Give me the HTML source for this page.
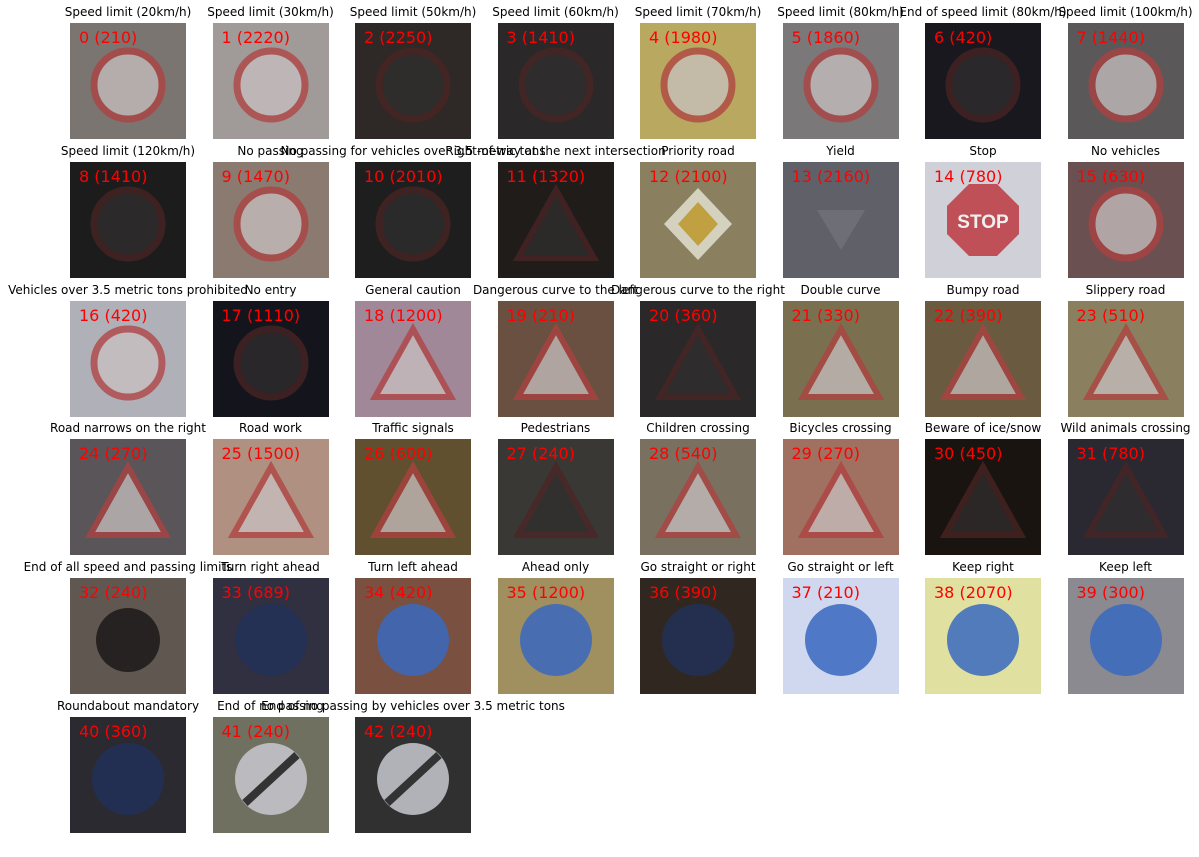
<!DOCTYPE html>
<html><head><meta charset="utf-8"><style>
body{margin:0;background:#fff;width:1199px;height:857px;overflow:hidden;position:relative;font-family:"DejaVu Sans","Liberation Sans",sans-serif}
.t{position:absolute;font-size:12px;color:#000;white-space:nowrap;transform:translateX(-50%)}
.c{position:absolute;width:116px;height:116px}
.l{position:absolute;font-size:16px;color:#f00;white-space:nowrap}
</style></head><body>
<div id="grid"></div>
<script>
const titles=["Speed limit (20km/h)","Speed limit (30km/h)","Speed limit (50km/h)","Speed limit (60km/h)","Speed limit (70km/h)","Speed limit (80km/h)","End of speed limit (80km/h)","Speed limit (100km/h)","Speed limit (120km/h)","No passing","No passing for vehicles over 3.5 metric tons","Right-of-way at the next intersection","Priority road","Yield","Stop","No vehicles","Vehicles over 3.5 metric tons prohibited","No entry","General caution","Dangerous curve to the left","Dangerous curve to the right","Double curve","Bumpy road","Slippery road","Road narrows on the right","Road work","Traffic signals","Pedestrians","Children crossing","Bicycles crossing","Beware of ice/snow","Wild animals crossing","End of all speed and passing limits","Turn right ahead","Turn left ahead","Ahead only","Go straight or right","Go straight or left","Keep right","Keep left","Roundabout mandatory","End of no passing","End of no passing by vehicles over 3.5 metric tons"];
const counts=[210,2220,2250,1410,1980,1860,420,1440,1410,1470,2010,1320,2100,2160,780,630,420,1110,1200,210,360,330,390,510,270,1500,600,240,540,270,450,780,240,689,420,1200,390,210,2070,300,360,240,240];
const bgs=["#7a7570","#a09a98","#2e2826","#2a2828","#b8a860","#7a7878","#18181e","#5a5858","#1c1c1c","#8a7a70","#1e1e1e","#201c1a","#8a8060","#606068","#d0d0d8","#6a5050","#b0b0b8","#14141c","#a08898","#6a5040","#2a2828","#7a7050","#6a5a40","#8a8060","#5a5558","#b09080","#605030","#3a3834","#7a7060","#a07060","#1a1410","#2a2830","#605850","#303040","#7a5040","#a09060","#302820","#d0d8f0","#e0e0a0","#8a8a90","#2a2a30","#707060","#303030"];
const shapes="ccccccccccctdyocccttttttttttttttkbbbbbbbbww";
const grid=document.getElementById('grid');
for(let i=0;i<titles.length;i++){
  const col=i%8,row=Math.floor(i/8);
  const x=70+col*142.5,y=23+row*138.8;
  const t=document.createElement('div');t.className='t';
  
  
  t.style.left=(x+58)+'px';t.style.top=(y-18)+'px';t.textContent=titles[i];grid.appendChild(t);
  const c=document.createElement('div');c.className='c';
  
  
  c.style.left=x+'px';c.style.top=y+'px';c.style.background=bgs[i];
  const s=shapes[i];let svg='';
  const dark=parseInt(bgs[i].slice(1,3),16)<0x40;
  const red=dark?'#4a2424':'#b04040', wh=dark?'#302e2e':'#c8c0c0';
  if(s==='c')svg=`<circle cx="58" cy="62" r="34" fill="${wh}" stroke="${red}" stroke-width="7" opacity="0.75"/>`;
  else if(s==='t')svg=`<polygon points="58,28 96,96 20,96" fill="${wh}" stroke="${red}" stroke-width="6" opacity="0.75"/>`;
  else if(s==='y')svg=`<polygon points="34,48 82,48 58,88" fill="#6e6e76"/>`;
  else if(s==='d')svg=`<polygon points="58,26 92,62 58,98 24,62" fill="#e0e0d0" opacity="0.85"/><polygon points="58,40 78,62 58,84 38,62" fill="#c0a040"/>`;
  else if(s==='o')svg=`<polygon points="44,22 72,22 94,44 94,72 72,94 44,94 22,72 22,44" fill="#c05058"/><text x="58" y="66" font-size="19" fill="#f0f0f0" text-anchor="middle" font-family="Liberation Sans" font-weight="bold">STOP</text>`;
  else if(s==='k')svg=`<circle cx="58" cy="62" r="32" fill="#262222"/>`;
  else if(s==='b')svg=`<circle cx="58" cy="62" r="36" fill="${dark?'#223058':'#3868c0'}" opacity="0.85"/>`;
  else if(s==='w')svg=`<circle cx="58" cy="62" r="36" fill="#c8c8d0" opacity="0.85"/><line x1="32" y1="86" x2="84" y2="38" stroke="#333" stroke-width="8"/>`;
  c.innerHTML=`<svg width="116" height="116">${svg}</svg>`;
  grid.appendChild(c);
  const l=document.createElement('div');l.className='l';
  
  
  l.style.left=(x+9)+'px';l.style.top=(y+5)+'px';l.textContent=i+' ('+counts[i]+')';grid.appendChild(l);
}
</script>
</body></html>
